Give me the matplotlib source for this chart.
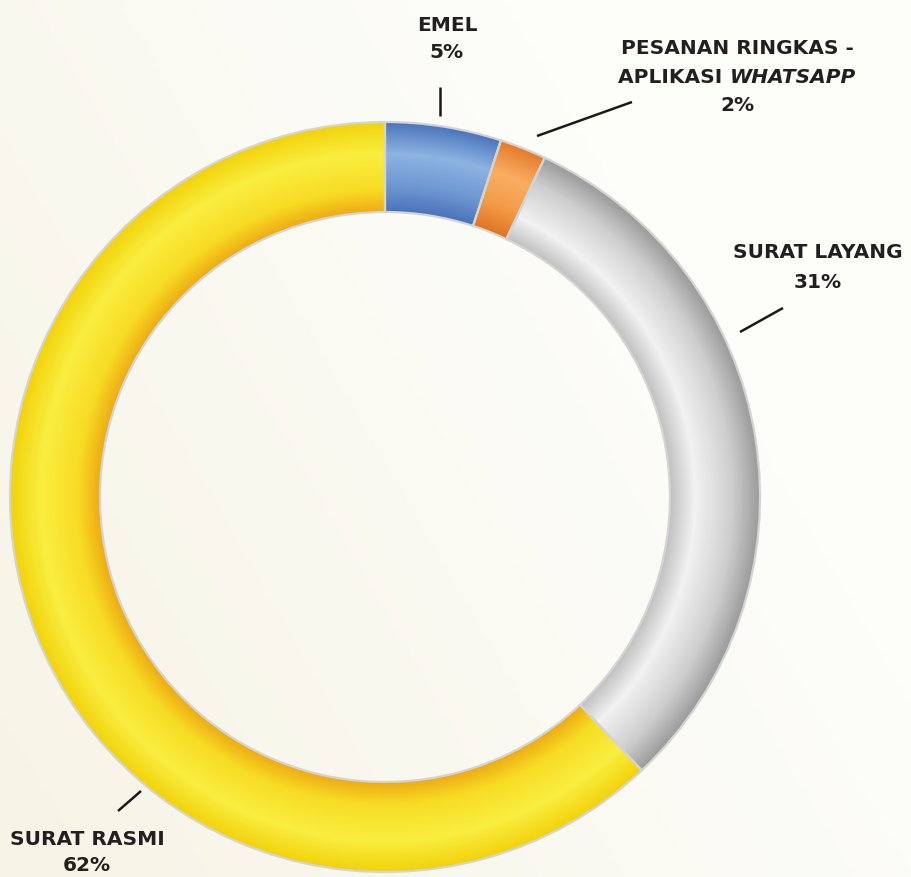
import matplotlib
matplotlib.use("Agg")
import matplotlib.pyplot as plt
import numpy as np
from matplotlib.colors import to_rgb

labels = ["EMEL", "PESANAN RINGKAS - APLIKASI WHATSAPP", "SURAT LAYANG", "SURAT RASMI"]
values = [5, 2, 31, 62]
pct_text = ["5%", "2%", "31%", "62%"]

# radial colour profile per slice: (t, colour), t=0 outer edge, t=1 inner edge
profiles = [
    [(0, "#4A74BC"), (0.35, "#8DB3E2"), (0.7, "#6F98D2"), (1, "#4A72B8")],
    [(0, "#E47A2A"), (0.35, "#F9AE62"), (0.7, "#F39A48"), (1, "#DE7424")],
    [(0, "#9A9A9A"), (0.3, "#CDCDCD"), (0.72, "#F2F2F2"), (1, "#C0C0C0")],
    [(0, "#F2D20A"), (0.35, "#F9EE40"), (0.75, "#F7DC24"), (1, "#EDAA14")],
]


def shade(prof, t):
    ts = [p[0] for p in prof]
    cs = np.array([to_rgb(p[1]) for p in prof])
    return tuple(np.interp(t, ts, cs[:, i]) for i in range(3))


W, H = 912, 878
fig = plt.figure(figsize=(W / 100, H / 100), dpi=100)
ax = fig.add_axes([0, 0, 1, 1])
ax.set_xlim(0, W)
ax.set_ylim(0, H)
ax.axis("off")

# background: soft cream to white
gx = np.linspace(0, 1, 200)
gy = np.linspace(0, 1, 200)
GX, GY = np.meshgrid(gx, gy)
g = np.clip(1 - (GX * 0.9 + (1 - GY) * 0.5), 0, 1)
c1 = np.array(to_rgb("#F5F2E0"))
c2 = np.array(to_rgb("#FDFDFA"))
bg = c2 + (c1 - c2) * g[..., None] * 0.8
ax.imshow(bg, extent=(0, W, 0, H), origin="upper", zorder=0, aspect="auto")

cx, cy = 385, H - 498
R, r_in = 375, 285
n = 45
dr = (R - r_in) / n
for k in range(n):
    t = (k + 0.5) / n
    cols = [shade(p, t) for p in profiles]
    ax.pie(values, radius=R - k * dr, center=(cx, cy), startangle=90,
           counterclock=False, colors=cols,
           wedgeprops=dict(width=dr * 2 if k < n - 1 else dr, linewidth=0))
# separators and outline
ax.pie(values, radius=R, center=(cx, cy), startangle=90, counterclock=False,
       colors=["none"] * 4,
       wedgeprops=dict(width=R - r_in, edgecolor="#D4D4D4", linewidth=1.6))
ax.set_xlim(0, W)
ax.set_ylim(0, H)
ax.set_aspect("equal")

fam = ["DejaVu Sans"]
tc = "#231F20"
fs = 14.5
kw = dict(fontsize=fs, fontweight="bold", color=tc, family=fam,
          ha="center", va="center", zorder=5)

ax.text(447, H - 25, labels[0], **kw)
ax.text(447, H - 52, pct_text[0], **kw)

ax.text(737, H - 48, "PESANAN RINGKAS -", **kw)
t1 = ax.text(0, H - 77, "APLIKASI ", **{**kw, "ha": "left"})
t2 = ax.text(0, H - 77, "WHATSAPP", **{**kw, "ha": "left", "style": "italic"})
ax.text(737, H - 105, pct_text[1], **kw)
rend = fig.canvas.get_renderer()
w1 = t1.get_window_extent(rend).width
w2 = t2.get_window_extent(rend).width
x0 = 737 - (w1 + w2) / 2
t1.set_x(x0)
t2.set_x(x0 + w1)

ax.text(818, H - 253, labels[2], **kw)
ax.text(818, H - 283, pct_text[2], **kw)

ax.text(87, H - 840, labels[3], **kw)
ax.text(87, H - 866, pct_text[3], **kw)

lk = dict(color="#1A1A1A", linewidth=1.8, zorder=5, solid_capstyle="butt")
ax.plot([440, 440], [H - 88, H - 117], **lk)
ax.plot([537, 632], [H - 137, H - 103], **lk)
ax.plot([740, 783], [H - 333, H - 309], **lk)
ax.plot([118, 141], [H - 812, H - 792], **lk)

fig.savefig("out.png", dpi=100)
